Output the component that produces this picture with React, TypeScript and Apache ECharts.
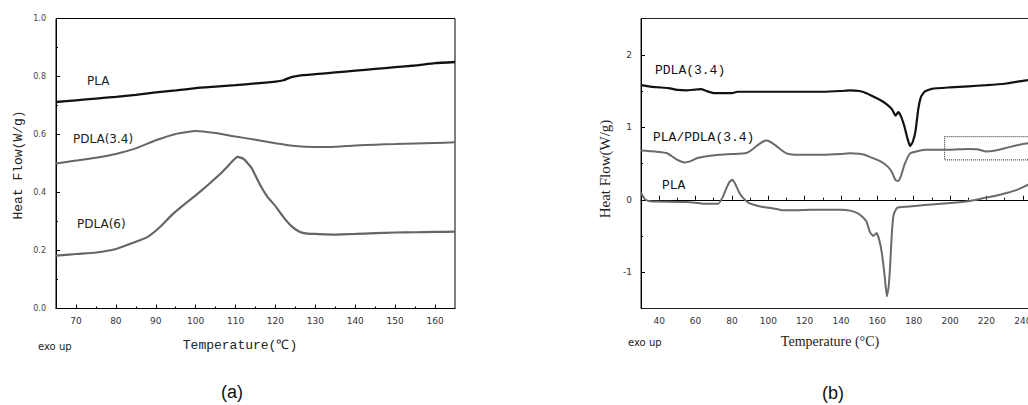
import React, { useEffect, useRef } from "react";
import * as echarts from "echarts";

// ---------- Panel (a) ----------
const aTicksMajorX = [70, 80, 90, 100, 110, 120, 130, 140, 150, 160];
const aTicksMinorX = [75, 85, 95, 105, 115, 125, 135, 145, 155];

const aPLA_T = [65, 70, 75, 80, 85, 90, 95, 100, 105, 110, 115, 120, 122, 124, 126, 130, 135, 140, 145, 150, 155, 160, 165];
const aPLA_V = [0.712, 0.718, 0.724, 0.73, 0.737, 0.745, 0.752, 0.76, 0.765, 0.77, 0.776, 0.782, 0.787, 0.798, 0.803, 0.808, 0.814, 0.82, 0.826, 0.832, 0.838, 0.846, 0.85];

const aPDLA34_T = [65, 70, 75, 80, 85, 90, 95, 100, 105, 110, 115, 120, 125, 130, 135, 140, 145, 150, 155, 160, 165];
const aPDLA34_V = [0.5, 0.51, 0.52, 0.533, 0.552, 0.58, 0.602, 0.612, 0.605, 0.593, 0.582, 0.57, 0.56, 0.557, 0.558, 0.562, 0.565, 0.567, 0.569, 0.571, 0.573];

const aPDLA6_T = [65, 70, 75, 80, 85, 88, 91, 94, 97, 100, 103, 106, 108, 109.5, 110.5, 112, 114, 116, 118, 120, 122, 124, 126, 128, 130, 135, 140, 145, 150, 155, 160, 165];
const aPDLA6_V = [0.182, 0.188, 0.193, 0.205, 0.23, 0.247, 0.28, 0.322, 0.357, 0.39, 0.425, 0.462, 0.49, 0.512, 0.523, 0.516, 0.485, 0.43, 0.385, 0.353, 0.315, 0.284, 0.265, 0.258, 0.257, 0.255, 0.257, 0.26, 0.262, 0.263, 0.264, 0.265];

// ---------- Panel (b) ----------
const bTicksMajorX = [40, 60, 80, 100, 120, 140, 160, 180, 200, 220, 240];
const bTicksMinorX = [50, 70, 90, 110, 130, 150, 170, 190, 210, 230, 250];
const bTicksMajorY = [-1, 0, 1, 2];
const bTicksMinorY = [-0.5, 0.5, 1.5];

const bPDLA34_T = [30, 35, 40, 45, 50, 55, 60, 63, 66, 70, 75, 80, 83, 90, 100, 110, 120, 130, 140, 145, 150, 154, 158, 162, 165, 168, 170, 171.5, 173, 175, 176.5, 178, 179.5, 181, 182.5, 184, 186, 190, 200, 210, 220, 230, 240, 250];
const bPDLA34_V = [1.58, 1.56, 1.55, 1.54, 1.515, 1.51, 1.52, 1.525, 1.5, 1.47, 1.47, 1.47, 1.49, 1.49, 1.49, 1.49, 1.49, 1.49, 1.5, 1.51, 1.5, 1.47, 1.42, 1.37, 1.32, 1.25, 1.16, 1.21, 1.15, 1.0, 0.85, 0.74, 0.8, 0.95, 1.25, 1.42, 1.49, 1.53, 1.55, 1.565, 1.58, 1.6, 1.64, 1.68];

const bBlend_T = [30, 35, 40, 44, 47, 50, 54, 57, 61, 66, 73, 80, 88, 91, 94, 97, 99, 101, 104, 107, 110, 113, 120, 130, 140, 145, 150, 153, 157, 160, 163, 166, 168, 170, 171.5, 173, 175, 178, 182, 187, 200, 210, 215, 220, 225, 230, 240, 250];
const bBlend_V = [0.68, 0.67, 0.66, 0.645, 0.6, 0.55, 0.515, 0.53, 0.575, 0.6, 0.62, 0.63, 0.645, 0.69, 0.75, 0.8, 0.816, 0.8, 0.75, 0.69, 0.64, 0.625, 0.62, 0.62, 0.63, 0.64, 0.635, 0.62, 0.58, 0.55, 0.51, 0.45, 0.38, 0.27, 0.26, 0.33, 0.49, 0.64, 0.67, 0.69, 0.69, 0.7, 0.695, 0.665, 0.68, 0.71, 0.77, 0.8];

const bPLA_T = [30, 31, 32.5, 35, 40, 50, 55, 60, 64, 68, 72.5, 75, 77, 78.5, 80.3, 82, 84, 86, 89, 92, 97, 103, 108, 115, 123, 130, 140, 145, 149, 152, 154, 156, 157.8, 159.5, 161, 162.5, 164, 165.2, 166.2, 167, 168, 169, 171, 176, 182, 190, 200, 210, 218, 225, 231, 237, 243, 250];
const bPLA_V = [0.1, 0.05, 0.0, -0.02, -0.025, -0.03, -0.03, -0.04, -0.054, -0.055, -0.054, 0.04, 0.16, 0.24, 0.276, 0.21, 0.1, 0.03, -0.04, -0.07, -0.1, -0.12, -0.146, -0.146, -0.137, -0.137, -0.137, -0.15, -0.185, -0.24, -0.3, -0.45, -0.5, -0.46, -0.55, -0.74, -1.05, -1.33, -1.2, -0.92, -0.45, -0.2, -0.11, -0.095, -0.082, -0.065, -0.045, -0.02, 0.02, 0.055, 0.093, 0.14, 0.207, 0.28];

const zoomBox = [[197, 0.87], [246, 0.55]];

const pairs = (t: number[], v: number[]) => t.map((x, i) => [x, v[i]]);

const SANS = "DejaVu Sans";
const MONO = "Liberation Mono";
const SERIF = "Liberation Serif";

function buildOption(): any {
  const lineSeries = (name: string, t: number[], v: number[], xi: number, yi: number, color: string, w: number, extra: any = {}) => ({
    type: "line",
    name,
    xAxisIndex: xi,
    yAxisIndex: yi,
    data: pairs(t, v),
    showSymbol: false,
    symbol: "none",
    smooth: 0.15,
    lineStyle: { color, width: w },
    emphasis: { disabled: true },
    ...extra,
  });

  const majorAxisCommon = {
    axisLine: { show: true, lineStyle: { color: "#000", width: 1 } },
    splitLine: { show: false },
  };

  const txt = (text: string, x: number, y: number, font: string, size: number, extra: any = {}) => ({
    type: "text",
    x,
    y,
    silent: true,
    style: {
      text,
      fontFamily: font,
      fontSize: size,
      fill: extra.fill || "#222",
      textAlign: extra.align || "left",
      textVerticalAlign: "middle",
      fontWeight: extra.weight || "normal",
    },
    rotation: extra.rotation || 0,
  });

  return {
    animation: false,
    backgroundColor: "#fff",
    grid: [
      { left: 56, top: 18.5, width: 399, height: 290, show: true, borderColor: "#000", borderWidth: 1, backgroundColor: "transparent" },
      { left: 641, top: 18.5, width: 400, height: 290, show: true, borderColor: "#222", borderWidth: 1, backgroundColor: "transparent" },
    ],
    xAxis: [
      {
        gridIndex: 0, type: "value", min: 65, max: 165, position: "bottom",
        ...majorAxisCommon,
        axisTick: { show: true, inside: true, length: 4, customValues: aTicksMajorX, lineStyle: { color: "#000" } },
        axisLabel: { show: true, customValues: aTicksMajorX, fontFamily: SANS, fontSize: 9, color: "#333", margin: 8 },
      },
      {
        gridIndex: 0, type: "value", min: 65, max: 165, position: "bottom",
        axisLine: { show: false }, splitLine: { show: false },
        axisTick: { show: true, inside: true, length: 2, customValues: aTicksMinorX, lineStyle: { color: "#000" } },
        axisLabel: { show: false },
      },
      {
        gridIndex: 1, type: "value", min: 30, max: 250, position: "bottom",
        ...majorAxisCommon,
        axisTick: { show: true, inside: true, length: 4, customValues: bTicksMajorX, lineStyle: { color: "#000" } },
        axisLabel: { show: true, customValues: bTicksMajorX, fontFamily: SANS, fontSize: 9, color: "#333", margin: 8 },
      },
      {
        gridIndex: 1, type: "value", min: 30, max: 250, position: "bottom",
        axisLine: { show: false }, splitLine: { show: false },
        axisTick: { show: true, inside: true, length: 2, customValues: bTicksMinorX, lineStyle: { color: "#000" } },
        axisLabel: { show: false },
      },
    ],
    yAxis: [
      {
        gridIndex: 0, type: "value", min: 0, max: 1, interval: 0.2, position: "left",
        ...majorAxisCommon,
        axisTick: { show: true, inside: true, length: 4, lineStyle: { color: "#000" } },
        minorTick: { show: true, splitNumber: 2, length: 2, lineStyle: { color: "#000" } },
        axisLabel: { show: true, fontFamily: SANS, fontSize: 8, color: "#444", margin: 10, formatter: (v: number) => v.toFixed(1) },
      },
      {
        gridIndex: 1, type: "value", min: -1.5, max: 2.5, position: "left",
        ...majorAxisCommon,
        axisTick: { show: true, inside: true, length: 4, customValues: bTicksMajorY, lineStyle: { color: "#000" } },
        axisLabel: { show: true, customValues: bTicksMajorY, fontFamily: SANS, fontSize: 9, color: "#333", margin: 9 },
      },
      {
        gridIndex: 1, type: "value", min: -1.5, max: 2.5, position: "left",
        axisLine: { show: false }, splitLine: { show: false },
        axisTick: { show: true, inside: true, length: 2, customValues: bTicksMinorY, lineStyle: { color: "#000" } },
        axisLabel: { show: false },
      },
    ],
    series: [
      lineSeries("PLA", aPLA_T, aPLA_V, 0, 0, "#111", 2.3),
      lineSeries("PDLA(3.4)", aPDLA34_T, aPDLA34_V, 0, 0, "#666", 2),
      lineSeries("PDLA(6)", aPDLA6_T, aPDLA6_V, 0, 0, "#666", 2.2),
      lineSeries("PDLA(3.4) b", bPDLA34_T, bPDLA34_V, 2, 1, "#111", 2.2),
      lineSeries("PLA/PDLA(3.4)", bBlend_T, bBlend_V, 2, 1, "#6a6a6a", 2, {
        markArea: {
          silent: true,
          itemStyle: { color: "rgba(0,0,0,0)", borderColor: "#222", borderWidth: 1, borderType: "dotted" },
          data: [[{ coord: zoomBox[0] }, { coord: zoomBox[1] }]],
        },
      }),
      lineSeries("PLA b", bPLA_T, bPLA_V, 2, 1, "#6a6a6a", 2),
    ],
    graphic: [
      // panel (a)
      txt("PLA", 87, 81, SANS, 12),
      txt("PDLA(3.4)", 73, 139, SANS, 12),
      txt("PDLA(6)", 77, 224, SANS, 12),
      txt("Heat Flow(W/g)", 18, 165, MONO, 13, { align: "center", rotation: Math.PI / 2 }),
      txt("Temperature(℃)", 240, 345, MONO, 13, { align: "center" }),
      txt("exo up", 38, 346, SANS, 10),
      txt("(a)", 232, 392, "Liberation Sans", 18, { align: "center", fill: "#111" }),
      // panel (b)
      txt("PDLA(3.4)", 655, 70, MONO, 13, { fill: "#111" }),
      txt("PLA/PDLA(3.4)", 653, 137, MONO, 13, { fill: "#111" }),
      txt("PLA", 662, 185, MONO, 13, { fill: "#111" }),
      txt("Heat Flow(W/g)", 605, 169, SERIF, 15, { align: "center", rotation: Math.PI / 2 }),
      txt("Temperature (°C)", 830, 341, SERIF, 14, { align: "center" }),
      txt("exo up", 628, 342, SANS, 10),
      txt("(b)", 833, 393, "Liberation Sans", 18, { align: "center", fill: "#111" }),
    ],
  };
}

export default function App() {
  const ref = useRef<HTMLDivElement>(null);
  useEffect(() => {
    if (!ref.current) return;
    const chart = echarts.init(ref.current, undefined, { renderer: "svg" });
    chart.setOption(buildOption());
    return () => chart.dispose();
  }, []);
  return (
    <div style={{ position: "absolute", left: 0, top: 0, width: 1028, height: 405, overflow: "hidden", background: "#fff" }}>
      <div ref={ref} style={{ width: 1060, height: 405 }} />
    </div>
  );
}
